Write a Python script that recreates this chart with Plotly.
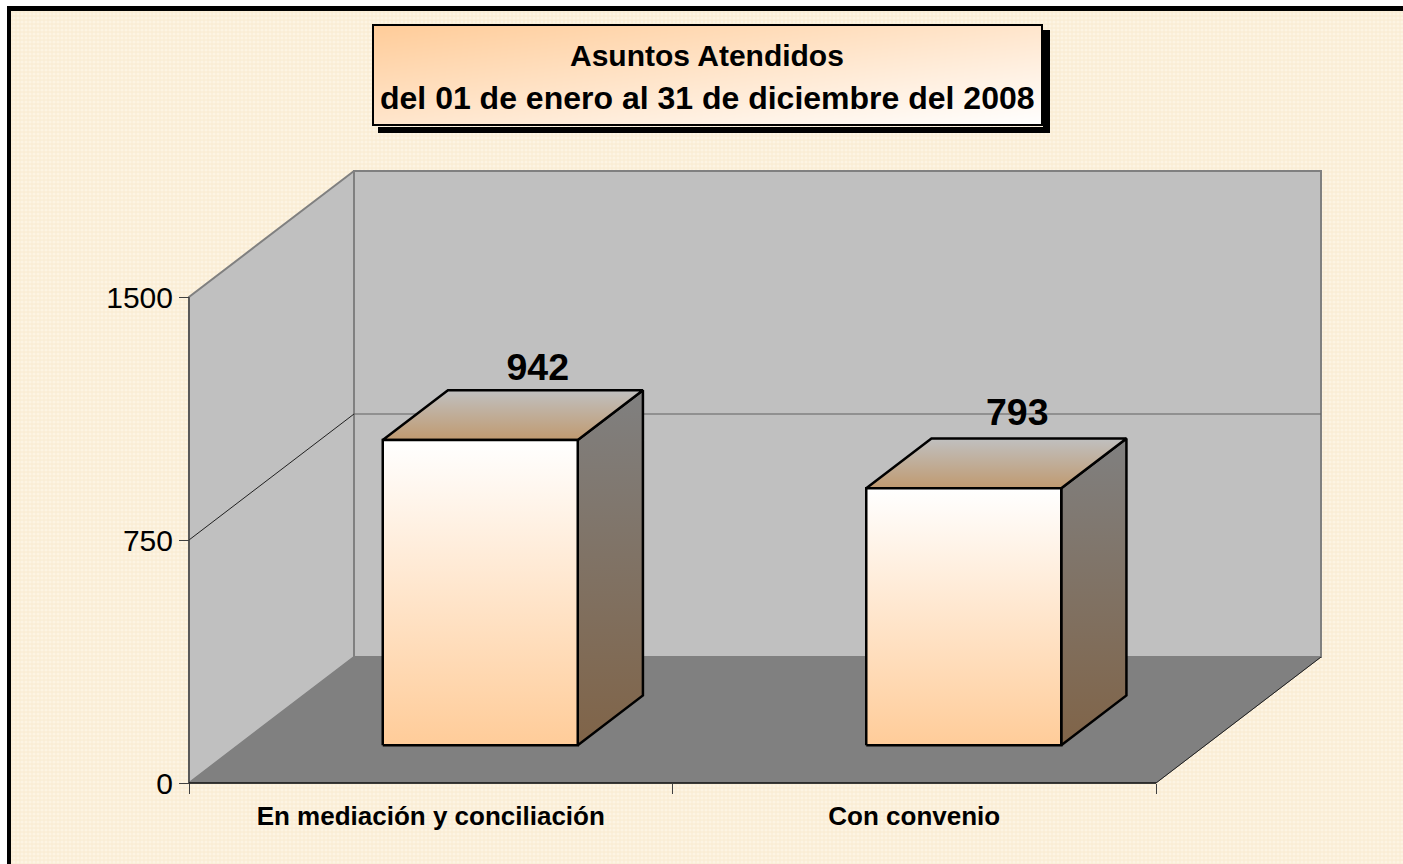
import plotly.graph_objects as go

categories = ["En mediación y conciliación", "Con convenio"]
values = [942, 793]
y_ticks = [0, 750, 1500]
title_lines = ["Asuntos Atendidos", "del 01 de enero al 31 de diciembre del 2008"]

W, H = 1403, 864
PX_X = 483.5          # pixels per category
PX_Y = 486 / 1500     # pixels per value unit
X0, Y0 = 189, 783     # origin pixel
DX, DY = 165 / PX_X, 126 / PX_Y   # oblique projection of full depth
BAR_W = 195 / PX_X
D_FRONT, D_BACK = 0.30, 0.695


def proj(cat, val, depth=0.0):
    return cat + depth * DX, val + depth * DY


def poly(points):
    pts = [proj(*p) for p in points]
    pts.append(pts[0])
    return [p[0] for p in pts], [p[1] for p in pts]


def vgrad(top, bottom):
    return dict(type="vertical", colorscale=[[0, bottom], [1, top]])


fig = go.Figure()

# paper texture
fig.add_trace(go.Scatter(
    x=[-1, 3, 3, -1, -1], y=[-1000, -1000, 4000, 4000, -1000], mode="lines", fill="toself",
    line=dict(width=0), fillcolor="#FBEFD9",
    fillpattern=dict(shape=".", size=4, solidity=0.5, fgcolor="#FDF4E3", bgcolor="#FAEDD5", fillmode="replace"),
    hoverinfo="skip", showlegend=False))

# walls and floor
n = len(categories)
wall = dict(mode="lines", fill="toself", fillcolor="#C0C0C0", hoverinfo="skip", showlegend=False)
x, y = poly([(0, 0), (0, 1500), (0, 1500, 1), (0, 0, 1)])
fig.add_trace(go.Scatter(x=x, y=y, line=dict(color="#808080", width=2), **wall))
x, y = poly([(0, 0, 1), (0, 1500, 1), (n, 1500, 1), (n, 0, 1)])
fig.add_trace(go.Scatter(x=x, y=y, line=dict(color="#808080", width=2), **wall))
x, y = poly([(0, 0), (n, 0), (n, 0, 1), (0, 0, 1)])
fig.add_trace(go.Scatter(x=x, y=y, mode="lines", fill="toself", fillcolor="#808080",
                         line=dict(color="#808080", width=1), hoverinfo="skip", showlegend=False))


def line(points, color, width):
    pts = [proj(*p) for p in points]
    fig.add_trace(go.Scatter(x=[p[0] for p in pts], y=[p[1] for p in pts], mode="lines",
                             line=dict(color=color, width=width), hoverinfo="skip", showlegend=False))


# gridline at the middle tick
line([(0, y_ticks[1]), (0, y_ticks[1], 1)], "#202020", 1)
line([(0, y_ticks[1], 1), (n, y_ticks[1], 1)], "#606060", 1.2)
# front axes and right floor edge
line([(0, 0), (0, y_ticks[-1])], "#404040", 1.2)
line([(0, 0), (n, 0)], "#101010", 1.5)
line([(n, 0), (n, 0, 1)], "#202020", 1)

# bars
for i, v in enumerate(values):
    c = i + 0.5
    l, r = c - BAR_W / 2, c + BAR_W / 2
    outline = dict(color="black", width=2.5)
    x, y = poly([(r, 0, D_FRONT), (r, 0, D_BACK), (r, v, D_BACK), (r, v, D_FRONT)])
    fig.add_trace(go.Scatter(x=x, y=y, mode="lines", fill="toself", line=outline,
                             fillgradient=vgrad("#808080", "#806448"), hoverinfo="skip", showlegend=False))
    x, y = poly([(l, v, D_FRONT), (r, v, D_FRONT), (r, v, D_BACK), (l, v, D_BACK)])
    fig.add_trace(go.Scatter(x=x, y=y, mode="lines", fill="toself", line=outline,
                             fillgradient=vgrad("#C0C0C0", "#C09A70"), hoverinfo="skip", showlegend=False))
    x, y = poly([(l, 0, D_FRONT), (r, 0, D_FRONT), (r, v, D_FRONT), (l, v, D_FRONT)])
    fig.add_trace(go.Scatter(x=x, y=y, mode="lines", fill="toself", line=outline,
                             fillgradient=vgrad("#FFFFFF", "#FFCC99"), hoverinfo="skip", showlegend=False))

# value labels: offset from each bar's front top edge, in pixels
LABEL_DX = (57.5, 53.5)
LABEL_DY = (69, 73)
lx, ly = [], []
for i, v in enumerate(values):
    px_, py_ = proj(i + 0.5, v, D_FRONT)
    lx.append(px_ + LABEL_DX[i] / PX_X)
    ly.append(py_ + LABEL_DY[i] / PX_Y)
fig.add_trace(go.Scatter(x=lx, y=ly, mode="text", text=[str(v) for v in values],
                         textposition="middle center",
                         textfont=dict(family="Liberation Sans", size=37.5, color="black", weight="bold"),
                         hoverinfo="skip", showlegend=False))

# title box gradient on its own overlay axes
BX0, BX1, BY0, BY1 = 373, 1042, 25, 125
fig.add_trace(go.Heatmap(x=[0, 1], y=[0, 1], z=[[0.5, 1], [0, 0.5]], zsmooth="best", showscale=False,
                         colorscale=[[0, "#FFCC99"], [1, "#FFFFFF"]], hoverinfo="skip",
                         xaxis="x2", yaxis="y2"))

fig.update_layout(
    width=W, height=H, margin=dict(l=0, r=0, t=0, b=0), paper_bgcolor="#FBEFD9", plot_bgcolor="rgba(0,0,0,0)",
    showlegend=False,
    xaxis=dict(range=[-X0 / PX_X, (W - X0) / PX_X], domain=[0, 1], anchor="free", position=(H - Y0) / H,
               tickmode="array", tickvals=[i + 0.5 for i in range(n)], ticktext=categories,
               ticks="", ticklen=0, ticklabelstandoff=15, showgrid=False, zeroline=False, showline=False,
               tickfont=dict(family="Liberation Sans", size=26, color="black", weight="bold"),
               minor=dict(tickvals=list(range(n + 1)), ticks="outside", ticklen=10, tickcolor="#404040",
                          tickwidth=1, showgrid=False)),
    yaxis=dict(range=[(Y0 - H) / PX_Y, Y0 / PX_Y], domain=[0, 1], anchor="free", position=X0 / W,
               tickmode="array", tickvals=y_ticks, ticks="outside", ticklen=10, tickcolor="#404040",
               tickwidth=1, showgrid=False, zeroline=False, showline=False,
               tickfont=dict(family="Liberation Sans", size=30, color="black")),
    xaxis2=dict(domain=[BX0 / W, BX1 / W], range=[0, 1], visible=False, anchor="y2"),
    yaxis2=dict(domain=[(H - BY1) / H, (H - BY0) / H], range=[0, 1], visible=False, anchor="x2"),
)


def rect(x0, x1, y0, y1, color, lc=None, lw=0):
    fig.add_shape(type="rect", xref="paper", yref="paper", x0=x0 / W, x1=x1 / W, y0=1 - y0 / H, y1=1 - y1 / H,
                  fillcolor=color, line=dict(color=lc or color, width=lw), layer="above")


# title box outline and shadow
rect(BX0, BX1, BY0, BY1, "rgba(0,0,0,0)", "black", 2)
rect(BX1 + 1, BX1 + 8, BY0 + 5, BY1 + 8, "black")
rect(BX0 + 5, BX1 + 8, BY1 + 2, BY1 + 8, "black")
# page frame
rect(0, W, 0, 6, "white")
rect(0, 7, 0, H, "white")
rect(7, W, 6, 11, "black")
rect(7, 11, 6, H, "black")

for text, yc, size in zip(title_lines, [55, 98], [30, 32]):
    fig.add_annotation(xref="paper", yref="paper", x=(BX0 + BX1) / 2 / W, y=1 - yc / H, text=f"<b>{text}</b>",
                       showarrow=False, xanchor="center", yanchor="middle",
                       font=dict(family="Liberation Sans", size=size, color="black"))

fig.write_html("out.html", config=dict(displayModeBar=False), post_script="document.body.style.margin='0';")
